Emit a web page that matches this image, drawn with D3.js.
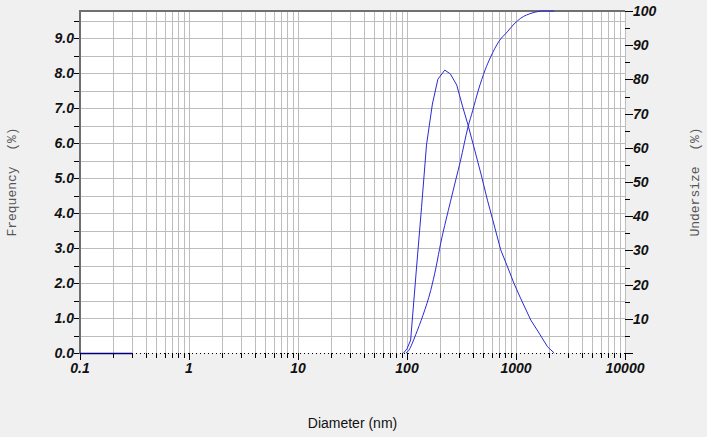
<!DOCTYPE html>
<html>
<head>
<meta charset="utf-8">
<script src="https://cdn.jsdelivr.net/npm/d3@7"></script>
<style>
  body { margin: 0; background: #f0f0f0; }
  svg { display: block; }
</style>
</head>
<body>
<svg id="chart" width="707" height="437"></svg>
<script>
// frequency curve (left axis, %)
var freqDiameter = [93, 100, 108, 122, 136, 151, 171, 192, 222, 250, 286, 325, 363, 420, 480, 547, 630, 724, 830, 955, 1100, 1368, 1650, 1945, 2240];
var freqValue    = [0, 0.12, 0.37, 2.4, 4.17, 5.95, 7.12, 7.83, 8.09, 7.98, 7.66, 7.03, 6.52, 5.78, 5.09, 4.37, 3.66, 2.95, 2.49, 2.0, 1.57, 0.94, 0.54, 0.18, 0];

// undersize curve (right axis, %)
var underDiameter = [98, 104, 112, 120, 140, 165, 185, 204, 228, 251, 280, 309, 363, 400, 452, 520, 586, 700, 832, 960, 1107, 1400, 1810, 2240];
var underValue    = [0, 0.8, 2.9, 5.3, 11.0, 18.3, 25.2, 32.2, 38.9, 44.4, 50.6, 56.1, 66.1, 70.8, 76.9, 82.7, 86.6, 91.2, 93.9, 96.2, 97.9, 99.4, 100, 100];

// zero segment drawn solid at the start of the baseline
var baselineSolid = [0.1, 0.3];

var xDecades = [0.1, 1, 10, 100, 1000, 10000];
var xTickLabels = ["0.1", "1", "10", "100", "1000", "10000"];
var leftTicks = [0, 1, 2, 3, 4, 5, 6, 7, 8, 9];
var rightTicks = [10, 20, 30, 40, 50, 60, 70, 80, 90, 100];

var margin = { left: 80, right: 82, top: 11, bottom: 84 };
var svgWidth = 707, svgHeight = 437;

var svg = d3.select("#chart");

var x = d3.scaleLog().domain([0.1, 10000]).range([margin.left, svgWidth - margin.right]);
var yLeft = d3.scaleLinear().domain([0, 9.78]).range([svgHeight - margin.bottom, margin.top]);
var yRight = d3.scaleLinear().domain([0, 100]).range([svgHeight - margin.bottom, margin.top]);

var x0 = x.range()[0], x1 = x.range()[1];
var yBot = yLeft.range()[0], yTop = yLeft.range()[1];

// plot background
svg.append("rect")
    .attr("x", x0).attr("y", yTop)
    .attr("width", x1 - x0).attr("height", yBot - yTop)
    .attr("fill", "#ffffff");

// all 1..9 values in every decade, for grid and minor ticks
var logValues = [];
for (var k = 0; k < xDecades.length - 1; k++) {
    for (var m = 1; m < 10; m++) logValues.push(xDecades[k] * m);
}
logValues.push(10000);

var halfSteps = d3.range(0.5, 9.6, 0.5);

var grid = svg.append("g").attr("stroke", "#bdbdbd").attr("stroke-width", 1);
grid.selectAll("line.v").data(logValues.slice(1)).enter().append("line")
    .attr("x1", function (d) { return Math.round(x(d)) + 0.5; })
    .attr("x2", function (d) { return Math.round(x(d)) + 0.5; })
    .attr("y1", yTop).attr("y2", yBot);
grid.selectAll("line.h").data(halfSteps).enter().append("line")
    .attr("y1", function (d) { return Math.round(yLeft(d)) + 0.5; })
    .attr("y2", function (d) { return Math.round(yLeft(d)) + 0.5; })
    .attr("x1", x0).attr("x2", x1);

// dotted baseline / x axis
svg.append("line")
    .attr("x1", x0).attr("x2", x1)
    .attr("y1", yBot + 0.5).attr("y2", yBot + 0.5)
    .attr("stroke", "#000").attr("stroke-dasharray", "1,3");

// x ticks downwards
svg.append("g").selectAll("line").data(logValues).enter().append("line")
    .attr("x1", function (d) { return Math.round(x(d)) + 0.5; })
    .attr("x2", function (d) { return Math.round(x(d)) + 0.5; })
    .attr("y1", yBot)
    .attr("y2", function (d) { return xDecades.indexOf(d) >= 0 ? yBot + 7 : yBot + 5; })
    .attr("stroke", "#000");

var tickFont = "'Liberation Sans', Arial, sans-serif";

svg.append("g").selectAll("text").data(xDecades).enter().append("text")
    .attr("x", function (d) { return x(d); })
    .attr("y", yBot + 20)
    .attr("text-anchor", "middle")
    .attr("font-family", tickFont).attr("font-size", 14)
    .attr("font-weight", "bold").attr("font-style", "italic")
    .attr("fill", "#111")
    .text(function (d, i) { return xTickLabels[i]; });

// left axis
svg.append("g").selectAll("line").data(d3.range(0, 9.6, 0.5)).enter().append("line")
    .attr("y1", function (d) { return Math.round(yLeft(d)) + 0.5; })
    .attr("y2", function (d) { return Math.round(yLeft(d)) + 0.5; })
    .attr("x1", x0 - 6).attr("x2", x0)
    .attr("stroke", "#000");

svg.append("g").selectAll("text").data(leftTicks).enter().append("text")
    .attr("x", x0 - 6)
    .attr("y", function (d) { return yLeft(d) + 5; })
    .attr("text-anchor", "end")
    .attr("font-family", tickFont).attr("font-size", 14)
    .attr("font-weight", "bold").attr("font-style", "italic")
    .attr("fill", "#111")
    .text(function (d) { return d3.format(".1f")(d); });

svg.append("line")
    .attr("x1", x0).attr("x2", x0)
    .attr("y1", yTop - 1).attr("y2", yBot + 1)
    .attr("stroke", "#6e6e6e").attr("stroke-width", 2);

// top border
svg.append("line")
    .attr("x1", x0 - 1).attr("x2", x1)
    .attr("y1", yTop).attr("y2", yTop)
    .attr("stroke", "#707070").attr("stroke-width", 2);

// right axis ticks
svg.append("g").selectAll("line").data(d3.range(0, 101, 5)).enter().append("line")
    .attr("y1", function (d) { return Math.round(yRight(d)) + 0.5; })
    .attr("y2", function (d) { return Math.round(yRight(d)) + 0.5; })
    .attr("x1", x1)
    .attr("x2", function (d) { return d % 10 === 0 ? x1 + 8 : x1 + 5; })
    .attr("stroke", "#000");

svg.append("g").selectAll("text").data(rightTicks).enter().append("text")
    .attr("x", x1 + 8)
    .attr("y", function (d) { return yRight(d) + 5; })
    .attr("font-family", tickFont).attr("font-size", 14)
    .attr("font-weight", "bold").attr("font-style", "italic")
    .attr("fill", "#111")
    .text(function (d) { return d; });

// data curves
var curveColor = "#2a2ad6";

svg.append("path")
    .datum(baselineSolid)
    .attr("d", d3.line().x(function (d) { return x(d); }).y(function () { return yLeft(0) + 0.5; }))
    .attr("fill", "none").attr("stroke", "#00007a").attr("stroke-width", 1.3);

var freqLine = d3.line()
    .x(function (d, i) { return x(freqDiameter[i]); })
    .y(function (d) { return yLeft(d); });
svg.append("path")
    .datum(freqValue)
    .attr("d", freqLine)
    .attr("fill", "none").attr("stroke", curveColor).attr("stroke-width", 1);

// undersize is sampled finer in the original, so smooth it a bit
var underLine = d3.line()
    .x(function (d, i) { return x(underDiameter[i]); })
    .y(function (d) { return yRight(d); })
    .curve(d3.curveMonotoneX);
svg.append("path")
    .datum(underValue)
    .attr("d", underLine)
    .attr("fill", "none").attr("stroke", curveColor).attr("stroke-width", 1);

// axis titles
var monoFont = "'Liberation Mono', 'DejaVu Sans Mono', monospace";
var midY = (yTop + yBot) / 2;

svg.append("text")
    .attr("transform", "translate(16," + midY + ") rotate(-90)")
    .attr("text-anchor", "middle")
    .attr("font-family", monoFont).attr("font-size", 13)
    .attr("fill", "#555")
    .attr("xml:space", "preserve")
    .text("Frequency  (%)");

svg.append("text")
    .attr("transform", "translate(699," + midY + ") rotate(-90)")
    .attr("text-anchor", "middle")
    .attr("font-family", monoFont).attr("font-size", 13)
    .attr("fill", "#555")
    .attr("xml:space", "preserve")
    .text("Undersize  (%)");

svg.append("text")
    .attr("x", (x0 + x1) / 2)
    .attr("y", 428)
    .attr("text-anchor", "middle")
    .attr("font-family", tickFont).attr("font-size", 14)
    .attr("fill", "#111")
    .text("Diameter (nm)");
</script>
</body>
</html>
